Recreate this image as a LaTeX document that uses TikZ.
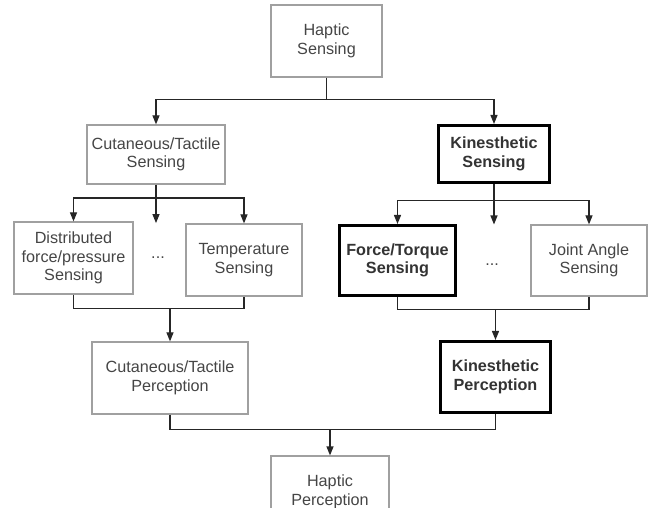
\documentclass[tikz,border=0pt]{standalone}
\usepackage{fontspec}
\setmainfont{Liberation Sans}
\usetikzlibrary{arrows.meta}
\usetikzlibrary{calc}
\definecolor{boxgray}{HTML}{A0A0A0}
\definecolor{textgray}{HTML}{454545}
\tikzset{
	box/.style={draw=boxgray, line width=1.2pt, rectangle, align=center, inner sep=0pt, text=textgray, font=\fontsize{16.2}{18.5}\selectfont},
	boldbox/.style={box, draw=black, line width=3pt, text=black!80, font=\fontsize{16.2}{18.5}\selectfont\bfseries},
	dots/.style={text=textgray, font=\fontsize{16.2}{18.5}\selectfont},
	link/.style={draw=black!85, line width=1.2pt},
	arr/.style={link, -{Triangle[length=9pt,width=7pt]}}
}
\begin{document}
\begin{tikzpicture}[x=1pt,y=-1pt]
			\useasboundingbox (0,0) rectangle (649,508);
			\clip (0,0) rectangle (649,508);

			\node[box, minimum width=111pt, minimum height=72pt] (hs) at (326.5,41) {Haptic\\Sensing};
			\node[box, minimum width=138pt, minimum height=59pt] (cts) at (156,154.5) {Cutaneous/Tactile\\Sensing};
			\node[boldbox, minimum width=111pt, minimum height=57pt] (ks) at (494,154) {Kinesthetic\\Sensing};

			\node[box, minimum width=119pt, minimum height=72pt] (dfp) at (73.5,258) {Distributed\\force/pressure\\Sensing};
			\node[dots] (cdots) at (158,258) {...};
			\node[box, minimum width=116pt, minimum height=72pt] (ts) at (244,260) {Temperature\\Sensing};
			\node[boldbox, minimum width=116pt, minimum height=70pt] (ft) at (397.5,260.5) {Force/Torque\\Sensing};
			\node[dots] (kdots) at (492,265) {...};
			\node[box, minimum width=116pt, minimum height=71pt] (ja) at (589,260.5) {Joint Angle\\Sensing};

			\node[box, minimum width=156pt, minimum height=72pt] (ctp) at (170,378) {Cutaneous/Tactile\\Perception};
			\node[boldbox, minimum width=110pt, minimum height=71pt] (kp) at (495.5,377) {Kinesthetic\\Perception};
			\node[box, minimum width=118pt, minimum height=72pt] (hp) at (330,492) {Haptic\\Perception};

			\coordinate (hsj) at ($(hs.south)+(0,21.7)$);
			\coordinate (ctsj) at ($(cts.south)+(0,13.5)$);
			\coordinate (ctsm) at ($(ctsj)+(0,25)$);
			\coordinate (ksj) at ($(ks.south)+(0,16.5)$);
			\coordinate (ksm) at ($(ksj)+(0,24)$);
			\coordinate (ctm) at ($(ctp.north)+(0,-33)$);
			\coordinate (kpm) at ($(kp.north)+(0,-30.5)$);
			\coordinate (hpm) at ($(hp.north)+(0,-26)$);

			\draw[link] (hs.south) -- (hsj);
			\draw[arr] (hsj) -| (cts.north);
			\draw[arr] (hsj) -| (ks.north);

			\draw[link] (cts.south) -- (ctsj);
			\draw[arr] (ctsj) -| (dfp.north);
			\draw[arr] (ctsj) -- (ctsm);
			\draw[arr] (ctsj) -| (ts.north);

			\draw[link] (ks.south) -- (ksj);
			\draw[arr] (ksj) -| (ft.north);
			\draw[arr] (ksj) -- (ksm);
			\draw[arr] (ksj) -| (ja.north);

			\draw[link] (dfp.south) |- (ctm) -| (ts.south);
			\draw[arr] (ctm) -- (ctp.north);
			\draw[link] (ft.south) |- (kpm) -| (ja.south);
			\draw[arr] (kpm) -- (kp.north);

			\draw[link] (ctp.south) |- (hpm) -| (kp.south);
			\draw[arr] (hpm) -- (hp.north);
		\end{tikzpicture}
\end{document}
